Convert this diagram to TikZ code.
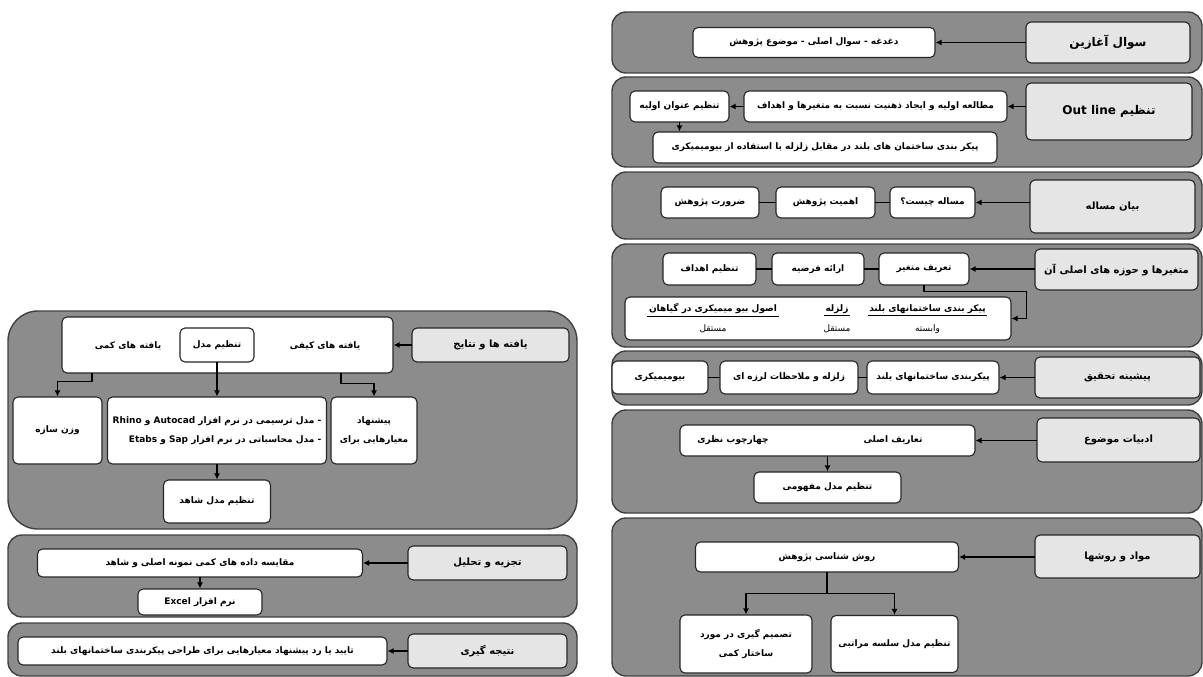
\documentclass[tikz,border=0pt]{standalone}
\usepackage{fontspec}
\newfontfamily\farsi[Script=Arabic]{DejaVu Sans}
\TeXXeTstate=1
\usetikzlibrary{arrows.meta}
\newcommand\fatxt[1]{\beginR#1\endR}

\begin{document}
\begin{tikzpicture}[x=1pt,y=-1pt,line cap=rect]
  \tikzstyle{panel}=[draw=black!75,line width=1.4,fill=black!45,rounded corners=14,inner sep=0];
  \tikzstyle{box}=[draw=black!85,line width=1.1,fill=white,rounded corners=5,inner sep=0,align=center,font=\farsi\bfseries\fontsize{9}{19}\selectfont];
  \tikzstyle{head}=[box,fill=black!10,font=\farsi\bfseries\fontsize{10}{12}\selectfont];
  \tikzstyle{bighead}=[head,font=\farsi\bfseries\fontsize{12}{14}\selectfont];
  \tikzstyle{lbl}=[inner sep=1,font=\farsi\bfseries\fontsize{9}{11}\selectfont];
  \tikzstyle{sublbl}=[inner sep=1,font=\farsi\fontsize{9}{11}\selectfont];
  \tikzstyle{link}=[line width=1.8,black];
  \tikzstyle{arr}=[link,-{Latex[length=6pt,width=6pt]}];
  \useasboundingbox (0,0) rectangle (1203,677);

  % left: findings
  \node[panel,minimum width=569,minimum height=218,rounded corners=30] (pA) at (292.5,420) {};
  \node[head,minimum width=157,minimum height=34] (headA) at (490.5,345) {\fatxt{یافته ها و نتایج}};
  \node[box,minimum width=331,minimum height=56] (topA) at (227.5,345) {};
  \node[lbl] (quanA) at (128,346) {\fatxt{یافته های کمی}};
  \node[lbl] (qualA) at (325,346) {\fatxt{یافته های کیفی}};
  \node[box,minimum width=74,minimum height=34] (modelA) at (217,345) {\fatxt{تنظیم مدل}};
  \node[box,minimum width=89,minimum height=67] (weightA) at (57.5,430.5) {\fatxt{وزن سازه}};
  \node[box,minimum width=219,minimum height=67,align=right] (softA) at (217,430.5)
    {\fatxt{- مدل ترسیمی در نرم افزار \beginL Autocad\endL{} و \beginL Rhino\endL}\\
     \fatxt{- مدل محاسباتی در نرم افزار \beginL Sap\endL{} و \beginL Etabs\endL}};
  \node[box,minimum width=86,minimum height=67] (critA) at (374,430.5) {\fatxt{پیشنهاد}\\\fatxt{معیارهایی برای}};
  \node[box,minimum width=107,minimum height=43] (ctrlA) at (217,501.5) {\fatxt{تنظیم مدل شاهد}};
  \draw[arr] ([xshift=-135.5]topA.south) -- ++(0,8) -| (weightA.north);
  \draw[arr] (modelA) -- (softA);
  \draw[arr] ([xshift=113.5]topA.south) -- ++(0,10) -| (critA.north);
  \draw[arr] (softA) -- (ctrlA);

  % left: analysis
  \node[panel,minimum width=569,minimum height=82] (pB) at (292.5,576) {};
  \node[head,minimum width=159,minimum height=34] (headB) at (487.5,563) {\fatxt{تجزیه و تحلیل}};
  \node[box,minimum width=325,minimum height=28] (cmpB) at (200,563) {\fatxt{مقایسه داده های کمی نمونه اصلی و شاهد}};
  \node[box,minimum width=124,minimum height=26] (excelB) at (200,602) {\fatxt{نرم افزار \beginL Excel\endL}};
  \draw[arr] (cmpB) -- (excelB);

  % left: conclusion
  \node[panel,minimum width=569,minimum height=53] (pC) at (292.5,649.5) {};
  \node[head,minimum width=159,minimum height=34] (headC) at (487.5,651) {\fatxt{نتیجه گیری}};
  \node[box,minimum width=369,minimum height=28] (concC) at (202.5,651) {\fatxt{تایید یا رد پیشنهاد معیارهایی برای طراحی پیکربندی ساختمانهای بلند}};

  % right: panels
  \foreach \n/\y/\h in {p1/42.5/61,p2/122/90,p3/205.5/67,p4/295.5/103,p5/378/54,p6/461.5/103,p7/597/158}
    \node[panel,minimum width=590,minimum height=\h] (\n) at (907,\y) {};

  % starting question
  \node[bighead,minimum width=164,minimum height=41] (head1) at (1108,42.5) {\fatxt{سوال آغازین}};
  \node[box,minimum width=242,minimum height=30] (q1) at (814,42.5) {\fatxt{دغدغه - سوال اصلی - موضوع پژوهش}};

  % outline
  \node[bighead,minimum width=166,minimum height=57] (head2) at (1109,111.5) {\fatxt{تنظیم \beginL Out line\endL}};
  \node[box,minimum width=263,minimum height=31] (study2) at (875.5,106.5) {\fatxt{مطالعه اولیه و ایجاد ذهنیت نسبت به متغیرها و اهداف}};
  \node[box,minimum width=99,minimum height=31] (title2) at (679.5,106.5) {\fatxt{تنظیم عنوان اولیه}};
  \node[box,minimum width=344,minimum height=31] (main2) at (825,147.5) {\fatxt{پیکر بندی ساختمان های بلند در مقابل زلزله با استفاده از بیومیمیکری}};
  \draw[arr] (study2) -- (title2);
  \draw[arr] (title2.south) -- (title2.south |- main2.north);

  % problem
  \node[head,minimum width=165,minimum height=53] (head3) at (1112.5,206.5) {\fatxt{بیان مساله}};
  \node[box,minimum width=85,minimum height=31] (what3) at (932.5,202.5) {\fatxt{مساله چیست؟}};
  \node[box,minimum width=99,minimum height=31] (imp3) at (825.5,202.5) {\fatxt{اهمیت پژوهش}};
  \node[box,minimum width=98,minimum height=31] (need3) at (710,202.5) {\fatxt{ضرورت پژوهش}};

  % variables
  \node[head,minimum width=163,minimum height=41] (head4) at (1116.5,269.5) {\fatxt{متغیرها و حوزه های اصلی آن}};
  \node[box,minimum width=90,minimum height=32] (def4) at (924,269) {\fatxt{تعریف متغیر}};
  \node[box,minimum width=92,minimum height=32] (hyp4) at (818,269) {\fatxt{ارائه فرضیه}};
  \node[box,minimum width=93,minimum height=32] (goal4) at (709.5,269) {\fatxt{تنظیم اهداف}};
  \node[box,minimum width=386,minimum height=43] (var4) at (818,318.5) {};
  \node[lbl] (dep4) at (927.5,309) {\fatxt{پیکر بندی ساختمانهای بلند}};
  \node[sublbl] (depk4) at (927.5,329) {\fatxt{وابسته}};
  \node[lbl] (zlz4) at (837,309) {\fatxt{زلزله}};
  \node[sublbl] (zlzk4) at (837,329) {\fatxt{مستقل}};
  \node[lbl] (bio4) at (713,309) {\fatxt{اصول بیو میمیکری در گیاهان}};
  \node[sublbl] (biok4) at (713,329) {\fatxt{مستقل}};
  \foreach \t in {dep4,zlz4,bio4}
    \draw[line width=0.8] ([yshift=-1]\t.south west) -- ([yshift=-1]\t.south east);
  \draw[arr] (def4.south) -- ++(0,6) -| ([xshift=15]var4.east) -- (var4.east);

  % background
  \node[head,minimum width=165,minimum height=41] (head5) at (1117.5,377.5) {\fatxt{پیشینه تحقیق}};
  \node[box,minimum width=132,minimum height=33] (tall5) at (933,377.5) {\fatxt{پیکربندی ساختمانهای بلند}};
  \node[box,minimum width=138,minimum height=33] (quake5) at (789,377.5) {\fatxt{زلزله و ملاحظات لرزه ای}};
  \node[box,minimum width=96,minimum height=33] (bio5) at (660,377.5) {\fatxt{بیومیمیکری}};

  % literature
  \node[head,minimum width=163,minimum height=44] (head6) at (1118.5,440) {\fatxt{ادبیات موضوع}};
  \node[box,minimum width=295,minimum height=31] (lit6) at (827.5,440.5) {};
  \node[lbl] (main6) at (893,440.5) {\fatxt{تعاریف اصلی}};
  \node[lbl] (frame6) at (733,440.5) {\fatxt{چهارچوب نظری}};
  \node[box,minimum width=147,minimum height=31] (concept6) at (827.5,487.5) {\fatxt{تنظیم مدل مفهومی}};
  \draw[arr] (lit6) -- (concept6);

  % methods
  \node[head,minimum width=165,minimum height=43] (head7) at (1117.5,556.5) {\fatxt{مواد و روشها}};
  \node[box,minimum width=263,minimum height=30] (meth7) at (827,557) {\fatxt{روش شناسی پژوهش}};
  \node[box,minimum width=132,minimum height=58] (dec7) at (746,644) {\fatxt{تصمیم گیری در مورد}\\\fatxt{ساختار کمی}};
  \node[box,minimum width=127,minimum height=57] (ahp7) at (894.5,644) {\fatxt{تنظیم مدل سلسه مراتبی}};
  \draw[link] (meth7.south) -- ++(0,21) coordinate (fork7);
  \draw[arr] (fork7) -| (dec7.north);
  \draw[arr] (fork7) -| (ahp7.north);

  % head arrows and plain links
  \foreach \h/\t in {headA/topA,headB/cmpB,headC/concC,head1/q1,head2/study2,head3/what3,head4/def4,head5/tall5,head6/lit6,head7/meth7}
    \draw[arr] (\t -| \h.west) -- (\t.east);
  \foreach \a/\b in {what3/imp3,imp3/need3,def4/hyp4,hyp4/goal4,tall5/quake5,quake5/bio5}
    \draw[link] (\a) -- (\b);
\end{tikzpicture}
\end{document}
